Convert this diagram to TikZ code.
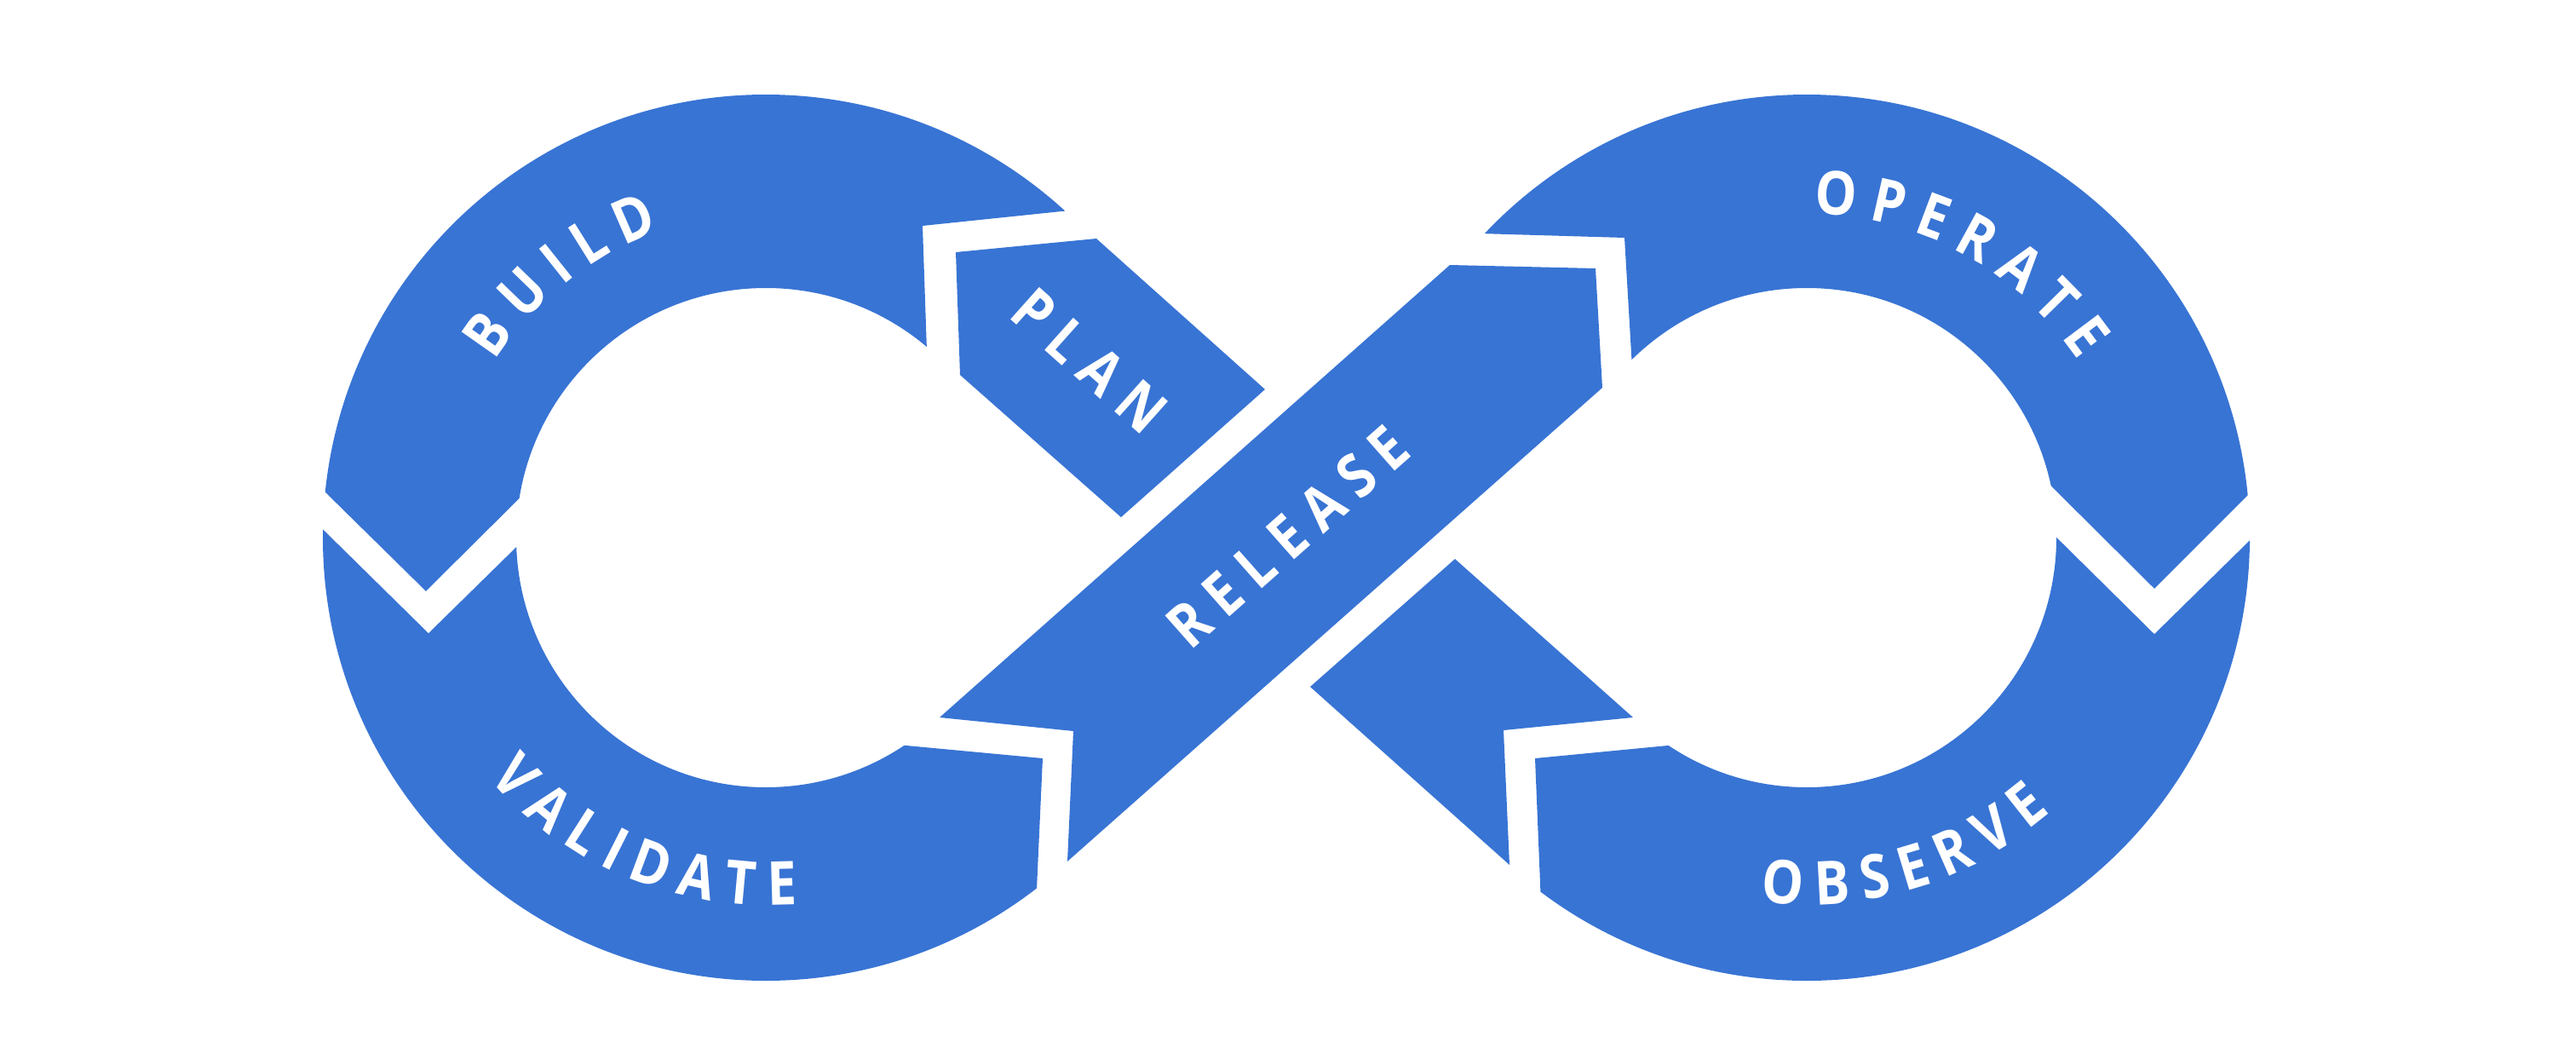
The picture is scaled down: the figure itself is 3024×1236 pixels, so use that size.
\documentclass[tikz,border=0pt]{standalone}
\usepackage{fontspec}
\newfontfamily\lblfont{Open Sans}[FakeStretch=0.87]
\newfontfamily\lblfontsp{Open Sans}[FakeStretch=0.87, LetterSpace=22]
\usetikzlibrary{decorations.text}
\definecolor{devblue}{RGB}{56,116,212}
\newcommand\lbltext{\lblfont\bfseries\fontsize{20.2}{24}\selectfont}
\newcommand\lblsptext{\lblfontsp\bfseries\fontsize{20.2}{24}\selectfont}
\tikzset{
  seg/.style={fill=devblue, draw=none},
  gapcut/.style={fill=white, draw=none},
  lbl/.style={text=white, font=\lblsptext, inner sep=0pt},
  arclbl/.style={decorate, decoration={text along path, text align=center,
      text color=white, text={|\lbltext\color{white}\kern4.4pt|#1}}}
}
\begin{document}
\begin{tikzpicture}[x=0.01cm,y=0.01cm]
\useasboundingbox (0,0) rectangle (3024,-1236);
\coordinate (L) at (899,-631);
\coordinate (R) at (2121,-631);

% left ring (BUILD + VALIDATE)
\begin{scope}
  \clip (0,0) -- (1400,0) -- (1400,-232) -- (1083,-265) -- (1090,-470)
        -- (1000,-869) -- (1224,-890) -- (1214,-1110) -- (1214,-1236)
        -- (0,-1236) -- cycle;
  \fill[seg, even odd rule] (L) circle[radius=520] (L) circle[radius=293];
\end{scope}
\fill[gapcut] (320,-517) -- (500,-694) -- (660,-535) -- (660,-589)
      -- (503,-743) -- (320,-563) -- cycle;

% right ring (OPERATE + OBSERVE)
\begin{scope}
  \clip (3024,0) -- (1600,0) -- (1600,-270) -- (1907,-279) -- (1920,-500)
        -- (2020,-869) -- (1802,-890) -- (1811,-1110) -- (1811,-1236)
        -- (3024,-1236) -- cycle;
  \fill[seg, even odd rule] (R) circle[radius=520] (R) circle[radius=293];
\end{scope}
\fill[gapcut] (2360,-523) -- (2529,-691) -- (2700,-520) -- (2700,-576)
      -- (2529,-744) -- (2360,-577) -- cycle;

% band 2 pieces (PLAN and lower right piece)
\fill[seg] (1122,-296) -- (1287,-280) -- (1485,-457) -- (1316,-607)
      -- (1127,-440) -- cycle;
\fill[seg] (1708,-656) -- (1917,-842) -- (1765,-857) -- (1772,-1015)
      -- (1538,-806) -- cycle;

% band 1 (RELEASE)
\fill[seg] (1103,-842) -- (1260,-858) -- (1253,-1011) -- (1881,-455)
      -- (1873,-315) -- (1702,-311) -- cycle;

% labels
\path[arclbl=BUILD] (L) ++(179.1:380) arc[start angle=179.1, end angle=79.1, radius=380];
\path[arclbl=VALIDATE] (L) ++(196.9:431) arc[start angle=196.9, end angle=296.9, radius=431];
\path[arclbl=OPERATE] (R) ++(112.1:380) arc[start angle=112.1, end angle=12.1, radius=380];
\path[arclbl=OBSERVE] (R) ++(236.2:431) arc[start angle=236.2, end angle=336.2, radius=431];
\node[lbl, rotate=-41.7] (plan) at (1279,-423) {PLAN};
\node[lbl, rotate=41.5] (release) at (1512,-630) {RELEASE};
\end{tikzpicture}
\end{document}
